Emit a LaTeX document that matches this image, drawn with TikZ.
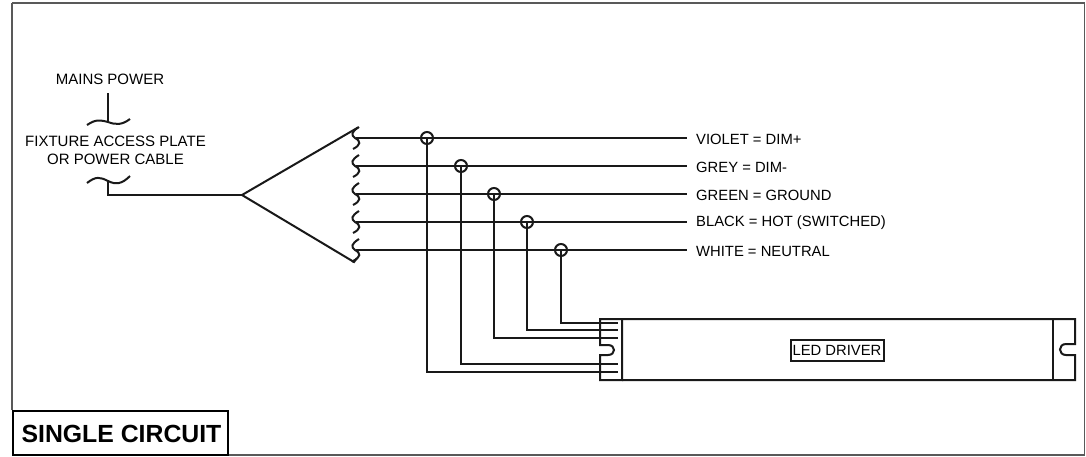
\documentclass[tikz,border=0pt]{standalone}
\usepackage{fontspec}
\setmainfont{Liberation Sans}
\tikzset{
  wire/.style={line width=2pt,black!90,line join=miter},
  frameline/.style={line width=1.5pt,black!65},
  lab/.style={inner sep=0pt,anchor=west,font=\fontsize{14.8}{16}\selectfont},
  clab/.style={inner sep=0pt,align=center,font=\fontsize{15}{18}\selectfont},
  splice/.style={circle,draw,line width=2pt,black!90,minimum size=12pt,inner sep=0pt},
}
\newcommand{\wiresq}[2]{% x, y : S-shaped break centred on the wire
  \draw[wire] (#1+3,#2-11) .. controls (#1-5,#2-6) and (#1-5,#2-3) .. (#1-1,#2)
     .. controls (#1+5,#2+3) and (#1+5,#2+7) .. (#1-3,#2+11);
}
\begin{document}
\begin{tikzpicture}[x=1pt,y=-1pt]
\useasboundingbox (0,0) rectangle (1086,456);
\fill[white] (0,0) rectangle (1086,456);
% frame
\draw[frameline] (12,3) -- (1084.5,3) -- (1084.5,455) -- (228,455);
\draw[frameline] (12,3) -- (12,410);
\node[draw,line width=2pt,black,minimum width=215pt,minimum height=44pt,outer sep=0pt,inner sep=0pt,anchor=north west] (title) at (13,411) {};
\node[inner sep=0pt,font=\fontsize{24.8}{28}\selectfont\bfseries] at (121.5,433.5) {SINGLE CIRCUIT};
% mains
\node[clab] (mains) at (110,79) {MAINS POWER};
\node[clab] (plate) at (115.5,150) {FIXTURE ACCESS PLATE\\OR POWER CABLE};
\coordinate (m1) at (108,93);
\coordinate (m2) at (108,122);
\coordinate (c1) at (108,181);
\coordinate (apex) at (242,195);
\coordinate (tu) at (358,127.5);
\coordinate (tl) at (354,262);
\draw[wire] (m1) -- (m2);
\draw[wire] (87,125) .. controls (96,119) and (100,120) .. (108,122) .. controls (116,125) and (122,125) .. (130,119);
\draw[wire] (87,183) .. controls (96,176) and (100,177) .. (108,181) .. controls (116,185) and (122,184) .. (130,176);
\draw[wire] (c1) |- (apex);
\draw[wire] (tu) -- (apex) -- (tl);
% breaks
\wiresq{356}{138}
\wiresq{356}{166}
\wiresq{356}{194}
\wiresq{356}{222}
\wiresq{356}{250}
\draw[wire] (352,261) -- (tl) -- (357,258);
% splices
\node[splice] (s1) at (427,138) {};
\node[splice] (s2) at (461,166) {};
\node[splice] (s3) at (494,194) {};
\node[splice] (s4) at (527,222) {};
\node[splice] (s5) at (561,250) {};
% labels
\node[lab] (l1) at (696,139) {VIOLET = DIM+};
\node[lab] (l2) at (696,167) {GREY = DIM-};
\node[lab] (l3) at (696,195) {GREEN = GROUND};
\node[lab] (l4) at (696,223) {BLACK = HOT (SWITCHED)};
\node[lab] (l5) at (696,251) {WHITE = NEUTRAL};
% wires
\foreach \y in {138,166,194,222,250}
  \draw[wire] (356,\y) -- (687,\y);
% driver
\draw[wire] (622,319) -- (1075,319) -- (1075,344) -- (1066,344)
  .. controls (1058,344) and (1058,355) .. (1066,355) -- (1075,355) -- (1075,380) -- (622,380);
\draw[wire] (622,319) -- (600,319) -- (600,345) -- (608,345)
  .. controls (616,345) and (616,355) .. (608,355) -- (600,355) -- (600,380) -- (622,380) -- cycle;
\draw[wire] (1053,319) -- (1053,380);
\node[draw,line width=2pt,black!90,inner sep=0pt,minimum width=93pt,minimum height=21pt] (drv) at (837,350) {};
\node[inner sep=0pt,font=\fontsize{14.8}{16}\selectfont] at (837,350) {LED DRIVER};
% drops
\coordinate (e5) at (618,323);
\coordinate (e4) at (618,330);
\coordinate (e3) at (618,338);
\coordinate (e2) at (618,364);
\coordinate (e1) at (618,372);
\draw[wire] (s1.center) |- (e1);
\draw[wire] (s2.center) |- (e2);
\draw[wire] (s3.center) |- (e3);
\draw[wire] (s4.center) |- (e4);
\draw[wire] (s5.center) |- (e5);
\end{tikzpicture}
\end{document}
